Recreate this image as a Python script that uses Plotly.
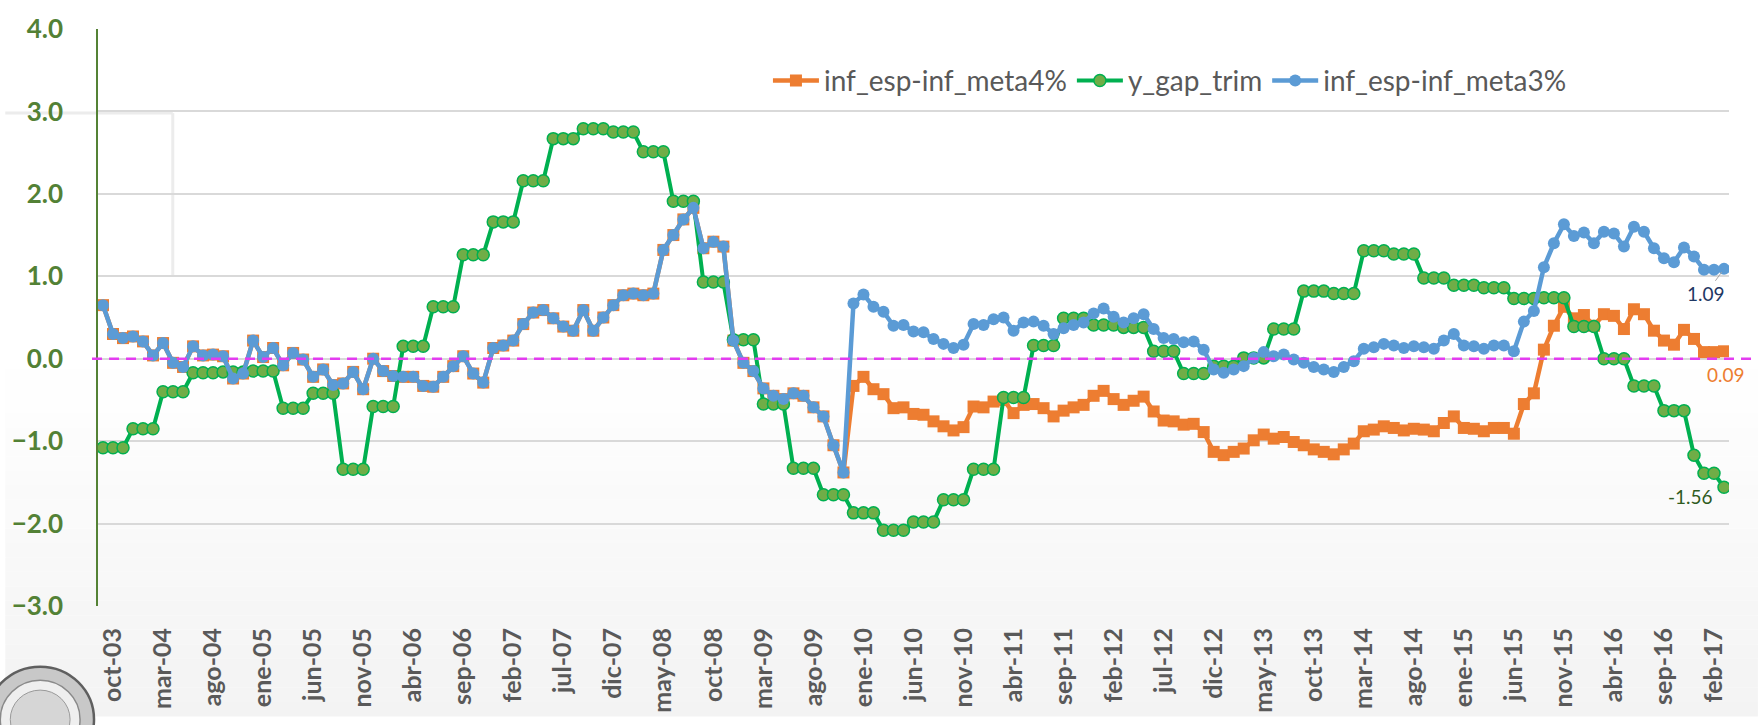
import plotly.graph_objects as go

# Meses en español; la serie mensual va de sep-03 a mar-17 (163 observaciones)
MESES = ["ene", "feb", "mar", "abr", "may", "jun", "jul", "ago", "sep", "oct", "nov", "dic"]
fechas = [f"{MESES[(8 + k) % 12]}-{3 + (8 + k) // 12:02d}" for k in range(163)]

etiquetas_x = [
    "oct-03", "mar-04", "ago-04", "ene-05", "jun-05", "nov-05", "abr-06", "sep-06",
    "feb-07", "jul-07", "dic-07", "may-08", "oct-08", "mar-09", "ago-09", "ene-10",
    "jun-10", "nov-10", "abr-11", "sep-11", "feb-12", "jul-12", "dic-12", "may-13",
    "oct-13", "mar-14", "ago-14", "ene-15", "jun-15", "nov-15", "abr-16", "sep-16",
    "feb-17",
]

inf_meta4 = [
    0.65, 0.30, 0.25, 0.27, 0.21, 0.04, 0.19, -0.05, -0.10, 0.15, 0.04, 0.05,
    0.03, -0.24, -0.18, 0.22, 0.02, 0.13, -0.08, 0.07, -0.01, -0.22, -0.13, -0.32,
    -0.30, -0.16, -0.37, 0.00, -0.15, -0.21, -0.22, -0.22, -0.33, -0.34, -0.22, -0.09,
    0.03, -0.18, -0.29, 0.13, 0.16, 0.22, 0.42, 0.56, 0.59, 0.49, 0.39, 0.34,
    0.59, 0.34, 0.50, 0.65, 0.77, 0.79, 0.77, 0.79, 1.32, 1.50, 1.69, 1.83,
    1.34, 1.42, 1.36, 0.22, -0.05, -0.15, -0.36, -0.45, -0.49, -0.42, -0.45, -0.59,
    -0.70, -1.05, -1.38, -0.33, -0.22, -0.37, -0.43, -0.60, -0.59, -0.67, -0.68, -0.76,
    -0.82, -0.87, -0.83, -0.58, -0.59, -0.52, -0.50, -0.66, -0.56, -0.55, -0.60, -0.70,
    -0.63, -0.59, -0.56, -0.45, -0.39, -0.49, -0.56, -0.51, -0.46, -0.64, -0.75, -0.76,
    -0.80, -0.79, -0.89, -1.13, -1.17, -1.13, -1.09, -0.99, -0.92, -0.97, -0.95, -1.01,
    -1.05, -1.10, -1.13, -1.16, -1.10, -1.03, -0.88, -0.86, -0.82, -0.84, -0.87, -0.85,
    -0.86, -0.88, -0.78, -0.70, -0.84, -0.85, -0.88, -0.84, -0.84, -0.91, -0.55, -0.42,
    0.11, 0.40, 0.63, 0.49, 0.53, 0.40, 0.54, 0.52, 0.36, 0.60, 0.54, 0.34,
    0.22, 0.17, 0.35, 0.24, 0.08, 0.08, 0.09,
]

y_gap_trim = [
    -1.08, -1.08, -1.08, -0.85, -0.85, -0.85, -0.40, -0.40, -0.40, -0.17, -0.17, -0.17,
    -0.16, -0.16, -0.16, -0.15, -0.15, -0.15, -0.60, -0.60, -0.60, -0.42, -0.42, -0.42,
    -1.34, -1.34, -1.34, -0.58, -0.58, -0.58, 0.15, 0.15, 0.15, 0.63, 0.63, 0.63,
    1.26, 1.26, 1.26, 1.66, 1.66, 1.66, 2.16, 2.16, 2.16, 2.67, 2.67, 2.67,
    2.79, 2.79, 2.79, 2.75, 2.75, 2.75, 2.51, 2.51, 2.51, 1.91, 1.91, 1.91,
    0.93, 0.93, 0.93, 0.23, 0.23, 0.23, -0.55, -0.55, -0.55, -1.33, -1.33, -1.33,
    -1.65, -1.65, -1.65, -1.87, -1.87, -1.87, -2.08, -2.08, -2.08, -1.98, -1.98, -1.98,
    -1.71, -1.71, -1.71, -1.34, -1.34, -1.34, -0.47, -0.47, -0.47, 0.16, 0.16, 0.16,
    0.49, 0.49, 0.49, 0.41, 0.41, 0.41, 0.38, 0.38, 0.38, 0.09, 0.09, 0.09,
    -0.18, -0.18, -0.18, -0.09, -0.09, -0.09, 0.01, 0.01, 0.01, 0.36, 0.36, 0.36,
    0.82, 0.82, 0.82, 0.79, 0.79, 0.79, 1.31, 1.31, 1.31, 1.27, 1.27, 1.27,
    0.98, 0.98, 0.98, 0.89, 0.89, 0.89, 0.86, 0.86, 0.86, 0.73, 0.73, 0.73,
    0.74, 0.74, 0.74, 0.39, 0.39, 0.39, 0.00, 0.00, 0.00, -0.33, -0.33, -0.33,
    -0.63, -0.63, -0.63, -1.17, -1.39, -1.39, -1.56,
]

inf_meta3 = [
    0.65, 0.30, 0.25, 0.27, 0.21, 0.04, 0.19, -0.05, -0.10, 0.15, 0.04, 0.05,
    0.03, -0.24, -0.18, 0.22, 0.02, 0.13, -0.08, 0.07, -0.01, -0.22, -0.13, -0.32,
    -0.30, -0.16, -0.37, 0.00, -0.15, -0.21, -0.22, -0.22, -0.33, -0.34, -0.22, -0.09,
    0.03, -0.18, -0.29, 0.13, 0.16, 0.22, 0.42, 0.56, 0.59, 0.49, 0.39, 0.34,
    0.59, 0.34, 0.50, 0.65, 0.77, 0.79, 0.77, 0.79, 1.32, 1.50, 1.69, 1.83,
    1.34, 1.42, 1.36, 0.22, -0.05, -0.15, -0.36, -0.45, -0.49, -0.42, -0.45, -0.59,
    -0.70, -1.05, -1.38, 0.67, 0.78, 0.63, 0.57, 0.40, 0.41, 0.33, 0.32, 0.24,
    0.18, 0.13, 0.17, 0.42, 0.41, 0.48, 0.50, 0.34, 0.44, 0.45, 0.40, 0.30,
    0.37, 0.41, 0.44, 0.55, 0.61, 0.51, 0.44, 0.49, 0.54, 0.36, 0.25, 0.24,
    0.20, 0.21, 0.11, -0.13, -0.17, -0.13, -0.09, 0.01, 0.08, 0.03, 0.05, -0.01,
    -0.05, -0.10, -0.13, -0.16, -0.10, -0.03, 0.12, 0.14, 0.18, 0.16, 0.13, 0.15,
    0.14, 0.12, 0.22, 0.30, 0.16, 0.15, 0.12, 0.16, 0.16, 0.09, 0.45, 0.58,
    1.11, 1.40, 1.63, 1.49, 1.53, 1.40, 1.54, 1.52, 1.36, 1.60, 1.54, 1.34,
    1.22, 1.17, 1.35, 1.24, 1.08, 1.08, 1.09,
]

# Geometría de la figura (px)
W, H = 1758, 725
L, R, T, B = 93, 1729, 22, 612


def fx(px):
    return (px - L) / (R - L)


def fy(py):
    return (B - py) / (B - T)


FUENTE = "Lato, 'Open Sans', Arial, sans-serif"
NARANJA = "#ED7D31"
VERDE_LINEA = "#00B050"
VERDE_RELLENO = "#70AD47"
AZUL = "#5B9BD5"

fig = go.Figure()

fig.add_trace(go.Scatter(
    x=fechas, y=inf_meta4, name="inf_esp-inf_meta4%", mode="lines+markers",
    line=dict(color=NARANJA, width=4.5),
    marker=dict(symbol="square", size=12, color=NARANJA),
))
fig.add_trace(go.Scatter(
    x=fechas, y=y_gap_trim, name="y_gap_trim", mode="lines+markers",
    line=dict(color=VERDE_LINEA, width=4),
    marker=dict(symbol="circle", size=12, color=VERDE_RELLENO,
                line=dict(color=VERDE_LINEA, width=1.5)),
))
fig.add_trace(go.Scatter(
    x=fechas, y=inf_meta3, name="inf_esp-inf_meta3%", mode="lines+markers",
    line=dict(color=AZUL, width=4.5),
    marker=dict(symbol="circle", size=12, color=AZUL),
))

shapes = []

# Fondo de la diapositiva: degradado suave hacia la parte inferior
n_franjas = 24
y_ini, y_fin = 370, H
for k in range(n_franjas):
    a = y_ini + (y_fin - y_ini) * k / n_franjas
    b = y_ini + (y_fin - y_ini) * (k + 1) / n_franjas
    g = round(255 - 12 * (k + 1) / n_franjas)
    shapes.append(dict(
        type="rect", xref="paper", yref="paper", layer="below",
        x0=fx(0), x1=fx(W), y0=fy(b), y1=fy(a),
        fillcolor=f"rgb({g},{g},{g})", line=dict(width=0),
    ))

# Recuadro tenue en la esquina superior izquierda
shapes.append(dict(type="line", xref="paper", yref="paper", layer="below",
                   x0=fx(0), x1=fx(168), y0=fy(108), y1=fy(108),
                   line=dict(color="#ececec", width=3)))
shapes.append(dict(type="line", xref="paper", yref="paper", layer="below",
                   x0=fx(168), x1=fx(168), y0=fy(108), y1=fy(274),
                   line=dict(color="#ececec", width=3)))

# Sello institucional en la esquina inferior izquierda
cx, cy = 35, 728
for r, relleno, borde, ancho in [(54, "#c8c8c8", "#5f5f5f", 2.5),
                                 (40, "#efefef", "#8a8a8a", 1.5),
                                 (30, "#d6d6d6", "#9a9a9a", 1)]:
    shapes.append(dict(type="circle", xref="paper", yref="paper", layer="above",
                       x0=fx(cx - r), x1=fx(cx + r), y0=fy(cy + r), y1=fy(cy - r),
                       fillcolor=relleno, line=dict(color=borde, width=ancho)))

# Línea de referencia en cero
shapes.append(dict(type="line", xref="paper", yref="y", layer="above",
                   x0=fx(87), x1=fx(1756), y0=0, y1=0,
                   line=dict(color="#E33CF0", width=2.5, dash="10px,7px")))

ultimo = fechas[-1]
annotations = [
    dict(x=ultimo, y=inf_meta3[-1], text=f"{inf_meta3[-1]:.2f}",
         showarrow=True, ax=-18, ay=25, arrowhead=0, arrowwidth=1,
         arrowcolor="#a6a6a6", standoff=4,
         font=dict(family=FUENTE, size=19, color="#1F3864")),
    dict(x=ultimo, y=inf_meta4[-1], text=f"{inf_meta4[-1]:.2f}",
         showarrow=False, xshift=2, yshift=-23,
         font=dict(family=FUENTE, size=19, color=NARANJA)),
    dict(x=ultimo, y=y_gap_trim[-1], text=f"{y_gap_trim[-1]:.2f}",
         showarrow=False, xshift=-34, yshift=-9,
         font=dict(family=FUENTE, size=19, color="#2F5B1E")),
]

fig.update_layout(
    width=W, height=H, autosize=False,
    margin=dict(l=L, r=W - R, t=T, b=H - B, pad=0),
    paper_bgcolor="white", plot_bgcolor="rgba(0,0,0,0)",
    font=dict(family=FUENTE, color="#595959"),
    shapes=shapes, annotations=annotations,
    legend=dict(orientation="h", x=fx(765), y=fy(75), xanchor="left", yanchor="middle",
                font=dict(family=FUENTE, size=28, color="#595959"),
                itemwidth=46,
                bgcolor="rgba(0,0,0,0)", traceorder="normal"),
    xaxis=dict(type="category", range=[-0.5, len(fechas) - 0.5],
               tickmode="array", tickvals=etiquetas_x, ticktext=etiquetas_x,
               tickangle=-90, ticks="", ticklabelstandoff=16,
               tickfont=dict(family=FUENTE, size=25, color="#595959", weight="bold"),
               showgrid=False, showline=False, zeroline=False),
    yaxis=dict(range=[-3, 4], dtick=1, tick0=0, tickformat=".1f",
               ticks="", ticklabelstandoff=28,
               tickfont=dict(family=FUENTE, size=26, color="#538135", weight="bold"),
               showgrid=True, gridcolor="#d9d9d9", gridwidth=1.5,
               showline=True, linecolor="#548235", linewidth=1.5, zeroline=False),
)

fig.write_html("out.html")
